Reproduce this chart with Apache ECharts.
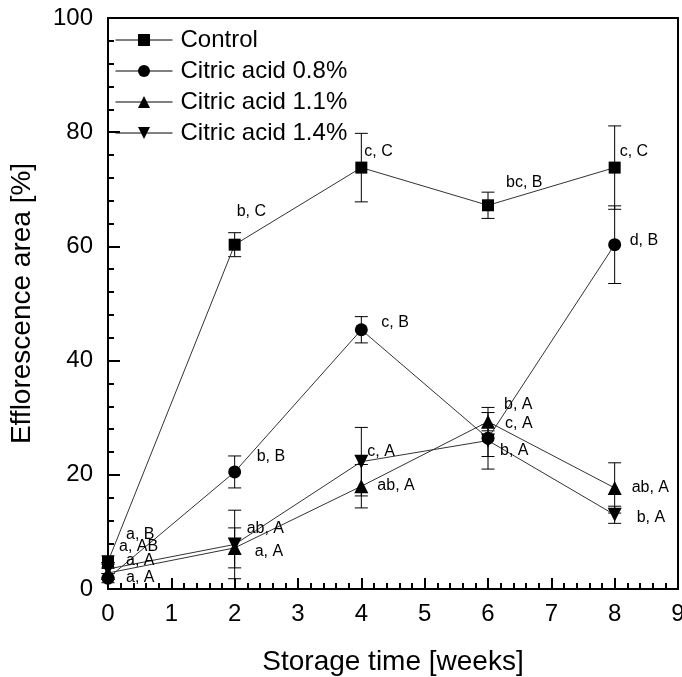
<!DOCTYPE html>
<html>
<head>
<meta charset="utf-8">
<script src="https://cdn.jsdelivr.net/npm/echarts@6/dist/echarts.min.js"></script>
<style>html,body{margin:0;padding:0;background:#fff}#c{width:682px;height:677px}</style>
</head>
<body>
<div id="c"></div>
<script>
// ---- data ----
const weeks = [0, 2, 4, 6, 8];
const seriesNames = ['Control', 'Citric acid 0.8%', 'Citric acid 1.1%', 'Citric acid 1.4%'];
const controlValues = [4.8, 60.3, 73.8, 67.2, 73.8];
const citric08Values = [1.9, 20.5, 45.4, 26.4, 60.3];
const citric11Values = [2.8, 7.2, 18.0, 29.3, 17.7];
const citric14Values = [3.5, 7.8, 22.3, 26.0, 13.0];
const controlErrors = [1.0, 2.1, 6.0, 2.3, 7.3];
const citric08Errors = [0.8, 2.8, 2.3, 5.4, 6.8];
const citric11Errors = [0.8, 3.5, 3.8, 1.6, 4.4];
const citric14Errors = [0.8, 6.0, 6.0, 2.8, 1.5];
const controlLetters = ['a, B', 'b, C', 'c, C', 'bc, B', 'c, C'];
const citric08Letters = ['a, A', 'b, B', 'c, B', 'c, A', 'd, B'];
const citric11Letters = ['a, A', 'a, A', 'ab, A', 'b, A', 'ab, A'];
const citric14Letters = ['a, AB', 'ab, A', 'c, A', 'b, A', 'b, A'];
const xTicks = [0, 1, 2, 3, 4, 5, 6, 7, 8, 9];
const yTicks = [0, 20, 40, 60, 80, 100];

// ---- layout (label offsets in px, relative to marker centre) ----
const labelOffsets = [
  [[18, -27], [2, -33], [3, -16], [18, -23], [5, -16]],
  [[18, -1], [22, -15], [20, -7], [17, -15], [15, -4]],
  [[18, -12], [20, 4], [16, -1], [16, -17], [17, 0]],
  [[11, -22], [12, -16], [6, -10], [12, 10], [22, 3]]
];
const symbols = [
  {symbol: 'rect', size: 12, rotate: 0},
  {symbol: 'circle', size: 13, rotate: 0},
  {symbol: 'triangle', size: 14, rotate: 0},
  {symbol: 'triangle', size: 14, rotate: 180}
];
const allValues = [controlValues, citric08Values, citric11Values, citric14Values];
const allErrors = [controlErrors, citric08Errors, citric11Errors, citric14Errors];
const allLetters = [controlLetters, citric08Letters, citric11Letters, citric14Letters];
const FONT = '"Liberation Sans", Arial, sans-serif';

const series = [];
allValues.forEach((vals, si) => {
  series.push({
    type: 'custom',
    name: seriesNames[si] + ' err',
    silent: true,
    z: 1,
    renderItem: function (params, api) {
      const x = api.value(0), lo = api.value(1), hi = api.value(2);
      const p1 = api.coord([x, lo]), p2 = api.coord([x, hi]);
      const w = 6.5;
      const st = {stroke: '#000', lineWidth: 1};
      return {type: 'group', children: [
        {type: 'line', shape: {x1: p1[0], y1: p1[1], x2: p2[0], y2: p2[1]}, style: st},
        {type: 'line', shape: {x1: p1[0] - w, y1: p1[1], x2: p1[0] + w, y2: p1[1]}, style: st},
        {type: 'line', shape: {x1: p2[0] - w, y1: p2[1], x2: p2[0] + w, y2: p2[1]}, style: st}
      ]};
    },
    data: weeks.map((w, i) => [w, vals[i] - allErrors[si][i], vals[i] + allErrors[si][i]])
  });
});
allValues.forEach((vals, si) => {
  series.push({
    type: 'line',
    name: seriesNames[si],
    z: 3,
    symbol: symbols[si].symbol,
    symbolSize: symbols[si].size,
    symbolRotate: symbols[si].rotate,
    showAllSymbol: true,
    lineStyle: {color: '#333', width: 1},
    itemStyle: {color: '#000'},
    emphasis: {disabled: true},
    data: weeks.map((w, i) => ({
      value: [w, vals[i]],
      label: {
        show: true,
        position: 'inside',
        align: 'left',
        verticalAlign: 'middle',
        offset: labelOffsets[si][i],
        formatter: allLetters[si][i],
        color: '#000',
        fontSize: 16,
        fontFamily: FONT
      }
    }))
  });
});

const chart = echarts.init(document.getElementById('c'));
chart.setOption({
  animation: false,
  backgroundColor: '#fff',
  grid: {left: 108, right: 4, top: 18, bottom: 88, outerBoundsMode: 'none', containLabel: false,
    show: true, borderColor: '#000', borderWidth: 2, backgroundColor: 'transparent'},
  legend: {
    data: seriesNames,
    orient: 'vertical',
    left: 115,
    top: 28,
    padding: 0,
    itemWidth: 57,
    itemHeight: 15,
    itemGap: 7,
    textStyle: {fontSize: 24, fontFamily: FONT, color: '#000', padding: [0, 0, 0, 3]},
    itemStyle: {color: '#000'},
    lineStyle: {color: '#000', width: 1}
  },
  xAxis: {
    type: 'value', min: 0, max: 9, interval: 1,
    name: 'Storage time [weeks]', nameLocation: 'middle', nameGap: 59,
    nameTextStyle: {fontSize: 28, fontFamily: FONT, color: '#000'},
    axisLine: {show: true, onZero: false, lineStyle: {color: '#000', width: 2}},
    axisTick: {show: true, inside: true, length: 11, lineStyle: {color: '#000', width: 2}},
    minorTick: {show: true, splitNumber: 5, length: 6, lineStyle: {color: '#000', width: 2}},
    splitLine: {show: false},
    axisLabel: {fontSize: 24, fontFamily: FONT, color: '#000', margin: 13,
      formatter: v => xTicks.includes(v) ? String(v) : ''}
  },
  yAxis: {
    type: 'value', min: 0, max: 100, interval: 20,
    name: 'Efflorescence area [%]', nameLocation: 'middle', nameGap: 72,
    nameTextStyle: {fontSize: 28, fontFamily: FONT, color: '#000'},
    axisLine: {show: true, onZero: false, lineStyle: {color: '#000', width: 2}},
    axisTick: {show: true, inside: true, length: 12, lineStyle: {color: '#000', width: 2}},
    minorTick: {show: true, splitNumber: 5, length: 6, lineStyle: {color: '#000', width: 2}},
    splitLine: {show: false},
    axisLabel: {fontSize: 24, fontFamily: FONT, color: '#000', margin: 15,
      formatter: v => yTicks.includes(v) ? String(v) : ''}
  },
  series: series
});
</script>
</body>
</html>
